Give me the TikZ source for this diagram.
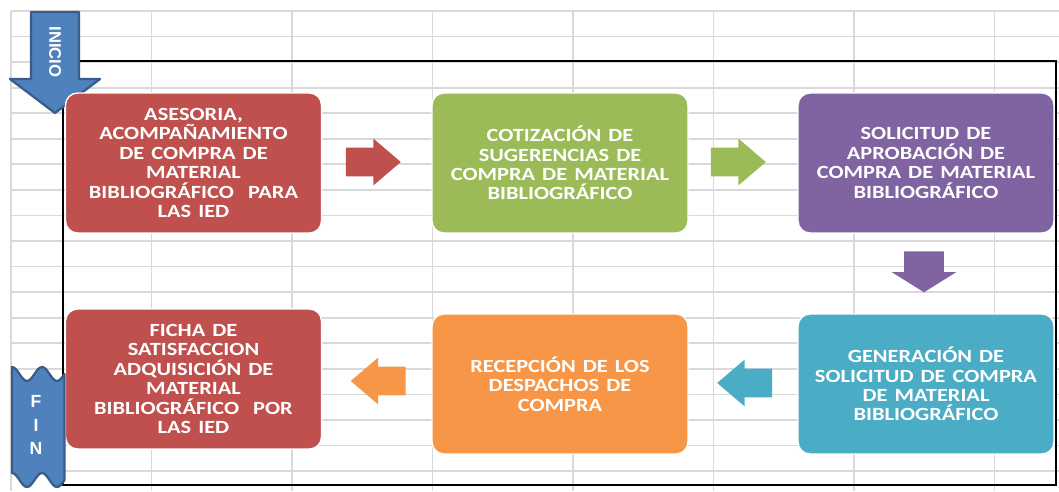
\documentclass[tikz,border=0pt]{standalone}
\usepackage{fontspec}
\setmainfont{Carlito}
\newfontfamily\pasofont{Carlito}[FakeStretch=1.2, WordSpace=1.4]
\newfontfamily\cintafont{Liberation Sans}
\usetikzlibrary{shapes.arrows, calc}

\definecolor{rojo}{HTML}{C0504D}
\definecolor{verde}{HTML}{9BBB59}
\definecolor{morado}{HTML}{8064A2}
\definecolor{turquesa}{HTML}{4BACC6}
\definecolor{naranja}{HTML}{F79646}
\definecolor{azul}{HTML}{4F81BD}
\definecolor{azuloscuro}{HTML}{385D8A}
\definecolor{rejilla}{HTML}{D9D9D9}

\tikzset{
    paso-box/.style={
        rectangle, rounded corners=0.24cm, minimum width=5.12cm, minimum height=2.8cm,
        inner sep=0pt, draw=white, line width=0.8pt, text=white, align=center,
        font=\pasofont\bfseries\fontsize{10.6pt}{11.05pt}\selectfont
    },
    bloque-flecha/.style={
        single arrow, draw=none, inner xsep=0pt, inner ysep=0.28cm,
        minimum width=0.92cm, minimum height=1.1cm,
        single arrow head extend=0.18cm, single arrow tip angle=81
    },
    bloque-flecha-baja/.style={
        single arrow, draw=none, inner xsep=0pt, inner ysep=0.39cm,
        minimum width=1.28cm, minimum height=0.82cm,
        single arrow head extend=0.25cm, single arrow tip angle=116
    },
    cinta/.style={
        fill=azul, draw=azuloscuro, line width=1.3pt, line join=round
    },
    cinta-texto/.style={
        text=white, inner sep=0pt, align=center
    },
}

\begin{document}
\begin{tikzpicture}[x=0.02cm, y=-0.02cm]

        \useasboundingbox (0,0) rectangle (1059,491);

        % GRID
        \foreach \gx in {11,151.5,292,432.5,573,713.5,854,994.5}
            \draw[rejilla, line width=1pt] (\gx,11) -- (\gx,491);
        \foreach \k in {0,...,18}
            \draw[rejilla, line width=1pt] (11,11+25.56*\k) -- (1059,11+25.56*\k);

        % FRAME
        \draw[black, line width=0.7pt] (63,61) rectangle (1056,485);

        % INICIO
        \draw[cinta] (31,12) -- (79,12) -- (79,79) -- (100,79) -- (55,113)
            -- (10,79) -- (31,79) -- cycle;
        \node[cinta-texto, rotate=-90, font=\cintafont\bfseries\fontsize{9.5pt}{11pt}\selectfont]
            (inicio) at (55,52) {INICIO};

        % PASOS, FILA SUPERIOR
        \node[paso-box, fill=rojo]     (asesoria)   at (193.5,163) {ASESORIA,\\ACOMPAÑAMIENTO\\DE COMPRA DE\\MATERIAL\\BIBLIOGRÁFICO\ \ PARA\\LAS IED};
        \node[paso-box, fill=verde]    (cotizacion) at (560,163)   {COTIZACIÓN DE\\SUGERENCIAS DE\\COMPRA DE MATERIAL\\BIBLIOGRÁFICO};
        \node[paso-box, fill=morado]   (solicitud)  at (926,163)   {SOLICITUD DE\\APROBACIÓN DE\\COMPRA DE MATERIAL\\BIBLIOGRÁFICO};

        % PASOS, FILA INFERIOR
        \node[paso-box, fill=turquesa] (generacion) at (926,384)   {GENERACIÓN DE\\SOLICITUD DE COMPRA\\DE MATERIAL\\BIBLIOGRÁFICO};
        \node[paso-box, fill=naranja]  (recepcion)  at (560,384)   {RECEPCIÓN DE LOS\\DESPACHOS DE\\COMPRA};
        \node[paso-box, fill=rojo]     (ficha)      at (193.5,379) {FICHA DE\\SATISFACCION\\ADQUISICIÓN DE\\MATERIAL\\BIBLIOGRÁFICO\ \ POR\\LAS IED};

        % FLECHAS ENTRE PASOS
        \node[bloque-flecha, fill=rojo, anchor=tip]               (flechaA) at ($(cotizacion.west) + (-30,-1)$) {};
        \node[bloque-flecha, fill=verde, anchor=tip]              (flechaB) at ($(solicitud.west)  + (-31,-1)$) {};
        \node[bloque-flecha-baja, fill=morado, anchor=tip, rotate=-90] (flechaC) at ($(solicitud.south) + (-2,59)$) {};
        \node[bloque-flecha, fill=turquesa, anchor=tip, rotate=180] (flechaD) at ($(recepcion.east) + (28,-1)$) {};
        \node[bloque-flecha, fill=naranja, anchor=tip, rotate=180]  (flechaE) at ($(ficha.east)     + (28,2)$)  {};

        % FIN
        \draw[cinta] (12,367) cos (19.5,374) sin (27,381) cos (34.5,374) sin (42,367)
            cos (49.5,374) sin (57,381) cos (64.5,374)
            -- (64.5,480) sin (57,487) cos (49.5,480) sin (42,473) cos (34.5,480)
            sin (27,487) cos (19.5,480) sin (12,473) -- cycle;
        \node[cinta-texto, font=\cintafont\bfseries\fontsize{10pt}{13.3pt}\selectfont]
            (fin) at (36,425) {F\\I\\N};

\end{tikzpicture}
\end{document}
